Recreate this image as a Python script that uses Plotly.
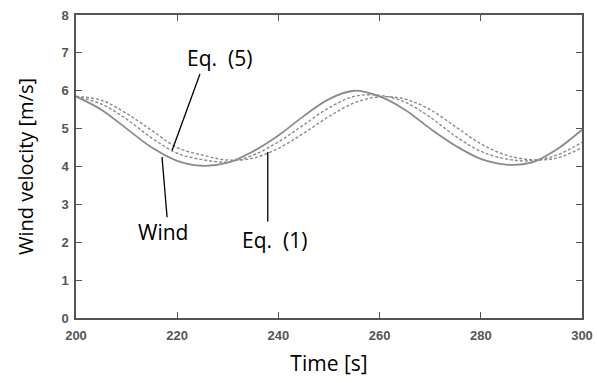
import plotly.graph_objects as go

time = [200, 205, 210, 215, 220, 225, 230, 235, 240, 245, 250, 255, 260, 265, 270, 275, 280, 285, 290, 295, 300]
wind = [5.85, 5.5, 5.0, 4.5, 4.15, 4.02, 4.1, 4.4, 4.82, 5.33, 5.78, 6.0, 5.85, 5.5, 5.0, 4.55, 4.2, 4.05, 4.1, 4.45, 4.97]
eq5 = [5.85, 5.65, 5.25, 4.75, 4.35, 4.18, 4.12, 4.3, 4.65, 5.1, 5.55, 5.85, 5.88, 5.7, 5.3, 4.8, 4.4, 4.2, 4.15, 4.3, 4.64]
eq1 = [5.85, 5.75, 5.4, 4.95, 4.5, 4.3, 4.17, 4.22, 4.48, 4.88, 5.32, 5.68, 5.84, 5.78, 5.5, 5.05, 4.6, 4.3, 4.18, 4.22, 4.5]

x_ticks = [200, 220, 240, 260, 280, 300]
y_ticks = [0, 1, 2, 3, 4, 5, 6, 7, 8]

line_col = "#8a8a8a"
fig = go.Figure()
fig.add_trace(go.Scatter(x=time, y=eq1, mode="lines", line=dict(color=line_col, width=1.4, dash="3px,2px", shape="spline")))
fig.add_trace(go.Scatter(x=time, y=eq5, mode="lines", line=dict(color=line_col, width=1.4, dash="3px,2px", shape="spline")))
fig.add_trace(go.Scatter(x=time, y=wind, mode="lines", line=dict(color=line_col, width=1.8, shape="spline")))

labels = [
    ("Wind", 217.2, 2.27, (217.0, 4.25), (218.0, 2.66)),
    ("Eq.  (1)", 239.2, 2.06, (237.9, 4.38), (237.9, 2.55)),
    ("Eq.  (5)", 228.3, 6.86, (219.0, 4.43), (224.5, 6.44)),
]
for txt, tx, ty, p0, p1 in labels:
    fig.add_annotation(x=tx, y=ty, text=txt, showarrow=False,
                       font=dict(family="Open Sans", size=21, color="black"))
    fig.add_shape(type="line", x0=p0[0], y0=p0[1], x1=p1[0], y1=p1[1],
                  line=dict(color="black", width=1.3))

axis_common = dict(showline=True, linecolor="#555555", linewidth=1.5, mirror="ticks",
                   ticks="inside", ticklen=6, tickwidth=1.3, tickcolor="#555555",
                   showgrid=False, zeroline=False, automargin=False,
                   tickfont=dict(family="Liberation Sans", size=13, color="#555555", weight="bold"))

fig.update_xaxes(range=[200, 300], tickvals=x_ticks, ticklabelstandoff=5, **axis_common,
                 title=dict(text="Time [s]", font=dict(family="Open Sans", size=21, color="black"), standoff=14))
fig.update_yaxes(range=[0, 8], tickvals=y_ticks, ticklabelstandoff=3, **axis_common,
                 title=dict(text="Wind velocity [m/s]", font=dict(family="Open Sans", size=20, color="black"), standoff=22))

fig.update_layout(width=597, height=383, showlegend=False,
                  margin=dict(l=76, r=15, t=15, b=65),
                  plot_bgcolor="white", paper_bgcolor="white")
fig.write_html("out.html")
